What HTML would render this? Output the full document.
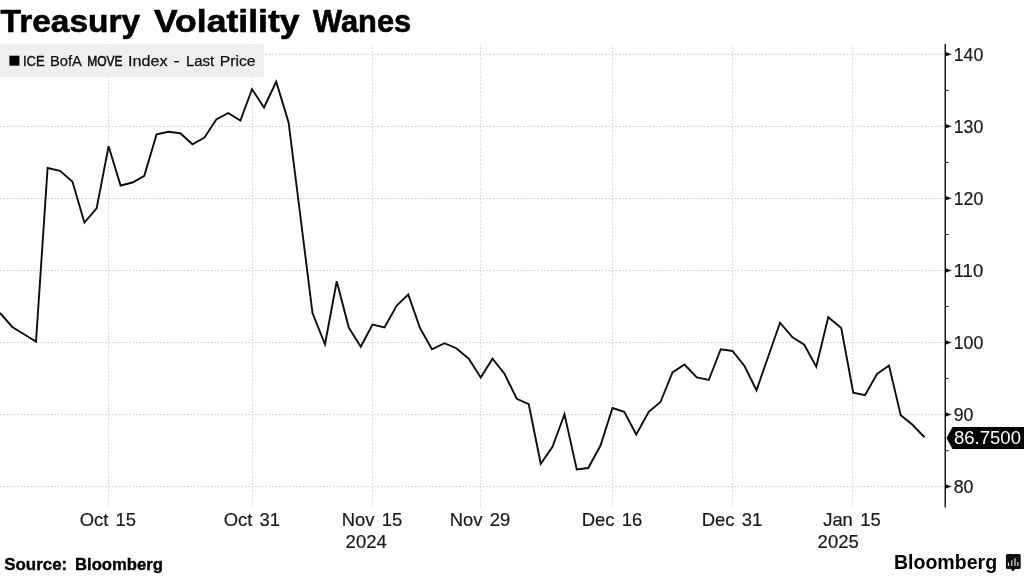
<!DOCTYPE html>
<html><head><meta charset="utf-8">
<style>
html,body{margin:0;padding:0;background:#fff;}
body{width:1024px;height:576px;overflow:hidden;font-family:"Liberation Sans",sans-serif;}
svg{display:block;position:absolute;left:0;top:0;filter:grayscale(1);}
text{font-family:"Liberation Sans",sans-serif;fill:#1a1a1a;}
.ax{font-size:18.4px;stroke:#1a1a1a;stroke-width:0.2px;}
.xl{word-spacing:2.2px;}
.ttl text{font-size:32px;font-weight:bold;fill:#000;stroke:#000;stroke-width:0.6px;}
.src text{font-size:15.8px;font-weight:bold;fill:#000;stroke:#000;stroke-width:0.35px;}
.lg text{font-size:15px;fill:#111;stroke:#111;stroke-width:0.25px;}
.logo{font-weight:bold;fill:#000;}
.grid line{stroke:#cbcbcb;stroke-width:1;stroke-dasharray:1.7 1.7;}
.grid line.v{stroke:#d2d2d2;stroke-dasharray:1.6 2;}
</style></head>
<body>
<svg width="1024" height="576" viewBox="0 0 1024 576">
<rect width="1024" height="576" fill="#fff"/>
<g class="ttl">
<text x="0.6" y="31.5" textLength="139.6" lengthAdjust="spacingAndGlyphs">Treasury</text>
<text x="154" y="31.5" textLength="145.5" lengthAdjust="spacingAndGlyphs">Volatility</text>
<text x="313" y="31.5" textLength="98.2" lengthAdjust="spacingAndGlyphs">Wanes</text>
</g>
<g class="grid"><line x1="0" y1="54.35" x2="945" y2="54.35"/><line x1="0" y1="126.4" x2="945" y2="126.4"/><line x1="0" y1="198.5" x2="945" y2="198.5"/><line x1="0" y1="270.55" x2="945" y2="270.55"/><line x1="0" y1="342.6" x2="945" y2="342.6"/><line x1="0" y1="414.7" x2="945" y2="414.7"/><line x1="0" y1="486.7" x2="945" y2="486.7"/><line class="v" x1="108.5" y1="44" x2="108.5" y2="507"/><line class="v" x1="252.5" y1="44" x2="252.5" y2="507"/><line class="v" x1="372.5" y1="44" x2="372.5" y2="507"/><line class="v" x1="480.5" y1="44" x2="480.5" y2="507"/><line class="v" x1="612.5" y1="44" x2="612.5" y2="507"/><line class="v" x1="732.5" y1="44" x2="732.5" y2="507"/><line class="v" x1="852.5" y1="44" x2="852.5" y2="507"/></g>
<rect x="0" y="44" width="264" height="33" fill="#eeeeee" fill-opacity="0.92"/>
<rect x="9.4" y="55.7" width="10" height="10" fill="#000"/>
<g class="lg"><text x="22.9" y="66.3" textLength="21.7" lengthAdjust="spacingAndGlyphs" style="stroke-width:0.45px">ICE</text><text x="49.9" y="66.3" textLength="32.0" lengthAdjust="spacingAndGlyphs" style="stroke-width:0.25px">BofA</text><text x="87.3" y="66.3" textLength="35.2" lengthAdjust="spacingAndGlyphs" style="stroke-width:0.6px">MOVE</text><text x="128.1" y="66.3" textLength="39.6" lengthAdjust="spacingAndGlyphs" style="stroke-width:0.25px">Index</text><text x="173.5" y="66.3" textLength="6.3" lengthAdjust="spacingAndGlyphs" style="stroke-width:0.25px">-</text><text x="185.9" y="66.3" textLength="28.3" lengthAdjust="spacingAndGlyphs" style="stroke-width:0.25px">Last</text><text x="219.8" y="66.3" textLength="35.8" lengthAdjust="spacingAndGlyphs" style="stroke-width:0.25px">Price</text></g>
<polyline points="0,313 12.3,327 24,334.2 36,341.5 47.6,168 60,170.75 72.5,181.75 84.4,222.5 96.6,208.4 108.6,146.25 120.6,185.5 132.5,182.5 144.3,175.75 156.6,134.25 168.6,131.75 180.3,133.25 192.5,144.25 204.5,137.5 216.3,119.5 228.2,113 240.4,120.5 252,89.25 264,107.5 276.2,81.75 288.6,122.5 300.6,218 312.5,313 325,344.25 336.75,281.25 348.75,327.5 360.75,346.75 372.5,324.5 384.5,327.5 396.75,305.5 408.25,294.5 420,328 432,349.25 444.5,343.25 456.25,348.25 468.75,358.75 480.75,377.5 492.5,358.75 504.5,373.75 516.75,398.75 528.75,404.25 540.75,463.75 552.5,446.75 564.5,414.25 576.75,469.5 588.25,468 600.5,445.5 612.5,408 624.25,411.75 636.25,434.5 648.75,411.75 660.5,402 672.5,372.5 684.5,364.5 696.75,377.5 708.75,380 720.75,349.25 732.5,351 744.5,366 756.5,390.25 768.25,356.5 780,322.75 792.5,337.25 804.25,344.75 816.25,366.75 828.25,317.25 841.25,328 853.25,392.75 865,395.25 877,374 889,365.5 900.75,415.25 912.5,424.75 924.5,437.25" fill="none" stroke="#0d0d0d" stroke-width="1.9" stroke-linejoin="miter" stroke-linecap="butt"/>
<line x1="945.25" y1="44" x2="945.25" y2="507.5" stroke="#1a1a1a" stroke-width="1.5"/>
<path d="M945.5 51.95 L951.8 54.2 L945.5 56.45Z" fill="#111"/><path d="M945.5 124.0 L951.8 126.25 L945.5 128.5Z" fill="#111"/><path d="M945.5 196.1 L951.8 198.35 L945.5 200.6Z" fill="#111"/><path d="M945.5 268.15000000000003 L951.8 270.40000000000003 L945.5 272.65000000000003Z" fill="#111"/><path d="M945.5 340.20000000000005 L951.8 342.45000000000005 L945.5 344.70000000000005Z" fill="#111"/><path d="M945.5 412.3 L951.8 414.55 L945.5 416.8Z" fill="#111"/><path d="M945.5 484.3 L951.8 486.55 L945.5 488.8Z" fill="#111"/><line x1="945" y1="90.375" x2="948.6" y2="90.375" stroke="#1a1a1a" stroke-width="1"/><line x1="945" y1="162.45" x2="948.6" y2="162.45" stroke="#1a1a1a" stroke-width="1"/><line x1="945" y1="234.525" x2="948.6" y2="234.525" stroke="#1a1a1a" stroke-width="1"/><line x1="945" y1="306.57500000000005" x2="948.6" y2="306.57500000000005" stroke="#1a1a1a" stroke-width="1"/><line x1="945" y1="378.65" x2="948.6" y2="378.65" stroke="#1a1a1a" stroke-width="1"/><line x1="945" y1="450.7" x2="948.6" y2="450.7" stroke="#1a1a1a" stroke-width="1"/>
<text x="953.7" y="61.050000000000004" class="ax" textLength="29.549999999999997" lengthAdjust="spacingAndGlyphs">140</text><text x="953.7" y="133.1" class="ax" textLength="29.549999999999997" lengthAdjust="spacingAndGlyphs">130</text><text x="953.7" y="205.2" class="ax" textLength="29.549999999999997" lengthAdjust="spacingAndGlyphs">120</text><text x="953.7" y="277.25" class="ax" textLength="29.549999999999997" lengthAdjust="spacingAndGlyphs">110</text><text x="953.7" y="349.3" class="ax" textLength="29.549999999999997" lengthAdjust="spacingAndGlyphs">100</text><text x="953.7" y="421.4" class="ax" textLength="19.7" lengthAdjust="spacingAndGlyphs">90</text><text x="953.7" y="493.4" class="ax" textLength="19.7" lengthAdjust="spacingAndGlyphs">80</text>
<path d="M946.5 438 L952.5 427 L1024 427 L1024 449 L952.5 449 Z" fill="#000"/>
<text x="954" y="444.3" font-size="18" style="fill:#fff" textLength="67" lengthAdjust="spacingAndGlyphs">86.7500</text>
<text x="107.9" y="526.1" class="ax xl" text-anchor="middle">Oct 15</text><text x="251.9" y="526.1" class="ax xl" text-anchor="middle">Oct 31</text><text x="371.9" y="526.1" class="ax xl" text-anchor="middle">Nov 15</text><text x="479.9" y="526.1" class="ax xl" text-anchor="middle">Nov 29</text><text x="611.9" y="526.1" class="ax xl" text-anchor="middle">Dec 16</text><text x="731.9" y="526.1" class="ax xl" text-anchor="middle">Dec 31</text><text x="851.9" y="526.1" class="ax xl" text-anchor="middle">Jan 15</text><text x="345.6" y="547.8" class="ax" textLength="41.2" lengthAdjust="spacingAndGlyphs">2024</text><text x="817.6" y="547.8" class="ax" textLength="41.2" lengthAdjust="spacingAndGlyphs">2025</text>
<g class="src">
<text x="4.2" y="570" textLength="63" lengthAdjust="spacingAndGlyphs">Source:</text>
<text x="75" y="570" textLength="88" lengthAdjust="spacingAndGlyphs">Bloomberg</text>
</g>
<text x="893.9" y="568.5" font-size="20" class="logo" textLength="103.3" lengthAdjust="spacingAndGlyphs">Bloomberg</text>
<g>
<path d="M1007.4 554 H1019.2 Q1020.7 554 1020.7 555.5 V567.4 Q1020.7 568.9 1019.2 568.9 H1015 L1012.9 571.4 L1010.8 568.9 H1007.4 Q1005.9 568.9 1005.9 567.4 V555.5 Q1005.9 554 1007.4 554Z" fill="#111"/>
<rect x="1007.9" y="562.7" width="1.2" height="3.2" fill="#e6e6e6"/>
<rect x="1011.2" y="560.3" width="1.2" height="5.6" fill="#e6e6e6"/>
<rect x="1014.4" y="558.2" width="1.2" height="7.7" fill="#e6e6e6"/>
<rect x="1017.2" y="562.1" width="1.2" height="3.8" fill="#e6e6e6"/>
</g>
</svg>
</body></html>
